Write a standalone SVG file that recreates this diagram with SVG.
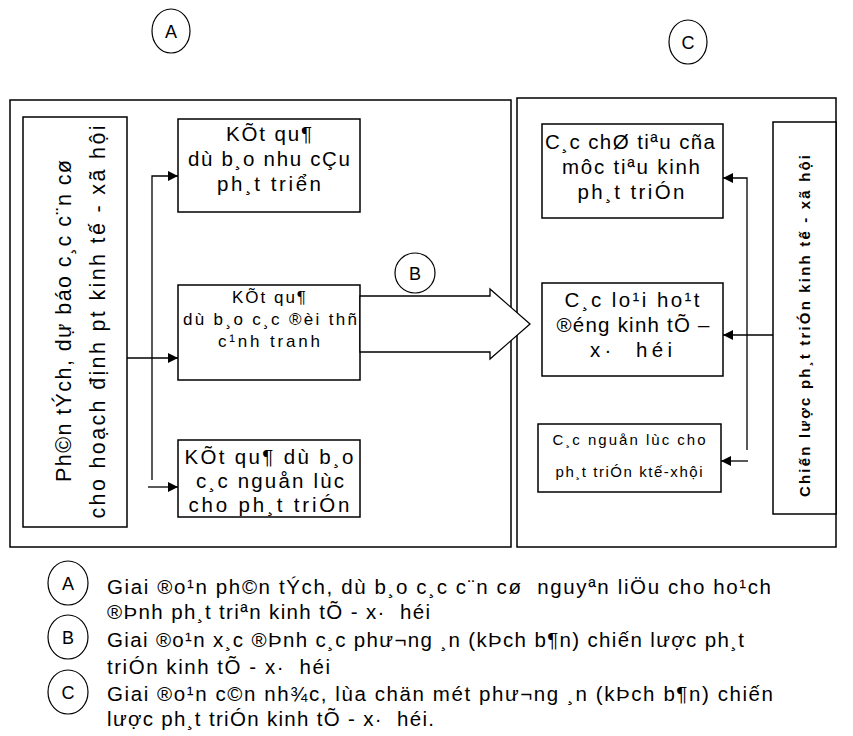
<svg xmlns="http://www.w3.org/2000/svg" width="853" height="736" viewBox="0 0 853 736">
<defs>
<marker id="ah" viewBox="0 0 10 10" refX="10" refY="5" markerWidth="10" markerHeight="10" markerUnits="userSpaceOnUse" orient="auto">
<path d="M0,0 L10,5 L0,10 z" fill="#000"/>
</marker>
</defs>
<style>
text{font-family:"Liberation Sans",Arial,sans-serif;fill:#000;white-space:pre}
.box{fill:#fff;stroke:#000;stroke-width:1.5}
.ln{fill:none;stroke:#000;stroke-width:1.3}
.circ{fill:none;stroke:#000;stroke-width:1.2}
.c{text-anchor:middle}
.lg{font-size:20.5px}
</style>
<rect width="853" height="736" fill="#fff"/>

<g id="labelA"><ellipse class="circ" cx="171" cy="31" rx="19" ry="22"/><text class="c" x="171" y="38" font-size="18">A</text></g>
<g id="labelC"><ellipse class="circ" cx="688" cy="42" rx="19" ry="22"/><text class="c" x="688" y="49" font-size="18">C</text></g>

<g id="leftFrame"><rect class="box" x="10" y="100" width="501" height="447"/></g>
<g id="rightFrame"><rect class="box" x="517" y="98" width="319" height="449"/></g>

<g id="analysis"><rect class="box" x="23" y="117" width="104" height="410"/>
<text class="c" font-size="21.5" transform="translate(71,321) rotate(-90)" textLength="322" lengthAdjust="spacing">Ph©n tÝch, dự báo c¸c c¨n cø</text>
<text class="c" font-size="21.5" transform="translate(105,322) rotate(-90)" textLength="393" lengthAdjust="spacing">cho hoạch định pt kinh tế - xã hội</text></g>

<g id="demand"><rect class="box" x="178" y="119" width="182" height="93"/>
<text class="c" font-size="20.5" x="269" y="141" textLength="86" lengthAdjust="spacing">KÕt qu¶</text>
<text class="c" font-size="20.5" x="269" y="166" textLength="162" lengthAdjust="spacing">dù b¸o nhu cÇu</text>
<text class="c" font-size="20.5" x="269" y="191" textLength="104" lengthAdjust="spacing">ph¸t triển</text></g>

<g id="competitors"><rect class="box" x="178" y="285" width="182" height="95"/>
<text class="c" font-size="17" x="269" y="303" textLength="74" lengthAdjust="spacing">KÕt qu¶</text>
<text class="c" font-size="17" x="270" y="325" textLength="174" lengthAdjust="spacing">dù b¸o c¸c ®èi thñ</text>
<text class="c" font-size="17" x="269" y="347" textLength="102" lengthAdjust="spacing">c¹nh tranh</text></g>

<g id="resources"><rect class="box" x="178" y="440" width="182" height="77"/>
<text class="c" font-size="20.5" x="269" y="464" textLength="169" lengthAdjust="spacing">KÕt qu¶ dù b¸o</text>
<text class="c" font-size="20.5" x="270" y="488" textLength="148" lengthAdjust="spacing">c¸c nguån lùc</text>
<text class="c" font-size="20.5" x="269" y="512" textLength="161" lengthAdjust="spacing">cho ph¸t triÓn</text></g>

<g id="targets"><rect class="box" x="542" y="124" width="181" height="94"/>
<text class="c" font-size="20.5" x="630" y="149" textLength="170" lengthAdjust="spacing">C¸c chØ tiªu cña</text>
<text class="c" font-size="20.5" x="631" y="174" textLength="138" lengthAdjust="spacing">môc tiªu kinh</text>
<text class="c" font-size="20.5" x="631" y="199" textLength="107" lengthAdjust="spacing">ph¸t triÓn</text></g>

<g id="activities"><rect class="box" x="542" y="283" width="181" height="93"/>
<text class="c" font-size="20.5" x="632" y="307" textLength="135" lengthAdjust="spacing">C¸c lo¹i ho¹t</text>
<text class="c" font-size="20.5" x="633" y="332" textLength="153" lengthAdjust="spacing">®éng kinh tÕ –</text>
<text class="c" font-size="20.5" x="631" y="357" textLength="82" lengthAdjust="spacing">x·  héi</text></g>

<g id="resources2"><rect class="box" x="538" y="424" width="183" height="68"/>
<text class="c" font-size="15" x="629" y="445" textLength="153" lengthAdjust="spacing">C¸c nguån lùc cho</text>
<text class="c" font-size="15" x="629" y="477" textLength="147" lengthAdjust="spacing">ph¸t triÓn ktế-xhội</text></g>

<g id="strategy"><rect class="box" x="773" y="122" width="63" height="392"/>
<text class="c" font-size="15" font-weight="bold" transform="translate(810,326) rotate(-90)" textLength="342" lengthAdjust="spacing">Chiến lược ph¸t triÓn kinh tế - xã hội</text></g>

<g id="labelB"><ellipse class="circ" cx="415" cy="273" rx="20" ry="20"/><text class="c" x="415" y="280" font-size="18">B</text></g>

<g id="connectors">
<polyline class="ln" points="152,480 152,176 178,176" marker-end="url(#ah)"/>
<line class="ln" x1="127" y1="358" x2="178" y2="358" marker-end="url(#ah)"/>
<line class="ln" x1="148" y1="487" x2="178" y2="487" marker-end="url(#ah)"/>
<polygon fill="#fff" stroke="#000" stroke-width="1.3" points="360,296 490,296 490,289 530,324 490,359 490,352 360,352"/>
<polyline class="ln" points="747,450 747,178 723,178" marker-end="url(#ah)"/>
<line class="ln" x1="773" y1="335" x2="723" y2="335" marker-end="url(#ah)"/>
<line class="ln" x1="748" y1="461" x2="721" y2="461" marker-end="url(#ah)"/>
</g>

<g id="legend">
<ellipse class="circ" cx="68" cy="583" rx="20" ry="22"/><text class="c" x="68" y="590" font-size="18">A</text>
<ellipse class="circ" cx="68" cy="637" rx="20" ry="22"/><text class="c" x="68" y="644" font-size="18">B</text>
<ellipse class="circ" cx="68" cy="692" rx="20" ry="22"/><text class="c" x="68" y="699" font-size="18">C</text>
<text class="lg" x="107" y="594" textLength="664" lengthAdjust="spacing">Giai ®o¹n ph©n tÝch, dù b¸o c¸c c¨n cø  nguyªn liÖu cho ho¹ch</text>
<text class="lg" x="107" y="619" textLength="323" lengthAdjust="spacing">®Þnh ph¸t triªn kinh tÕ - x·  héi</text>
<text class="lg" x="107" y="647" textLength="637" lengthAdjust="spacing">Giai ®o¹n x¸c ®Þnh c¸c phư¬ng ¸n (kÞch b¶n) chiến lược ph¸t</text>
<text class="lg" x="107" y="674" textLength="223" lengthAdjust="spacing">triÓn kinh tÕ - x·  héi</text>
<text class="lg" x="107" y="701" textLength="666" lengthAdjust="spacing">Giai ®o¹n c©n nh¾c, lùa chän mét phư¬ng ¸n (kÞch b¶n) chiến</text>
<text class="lg" x="107" y="726" textLength="327" lengthAdjust="spacing">lược ph¸t triÓn kinh tÕ - x·  héi.</text>
</g>
</svg>
